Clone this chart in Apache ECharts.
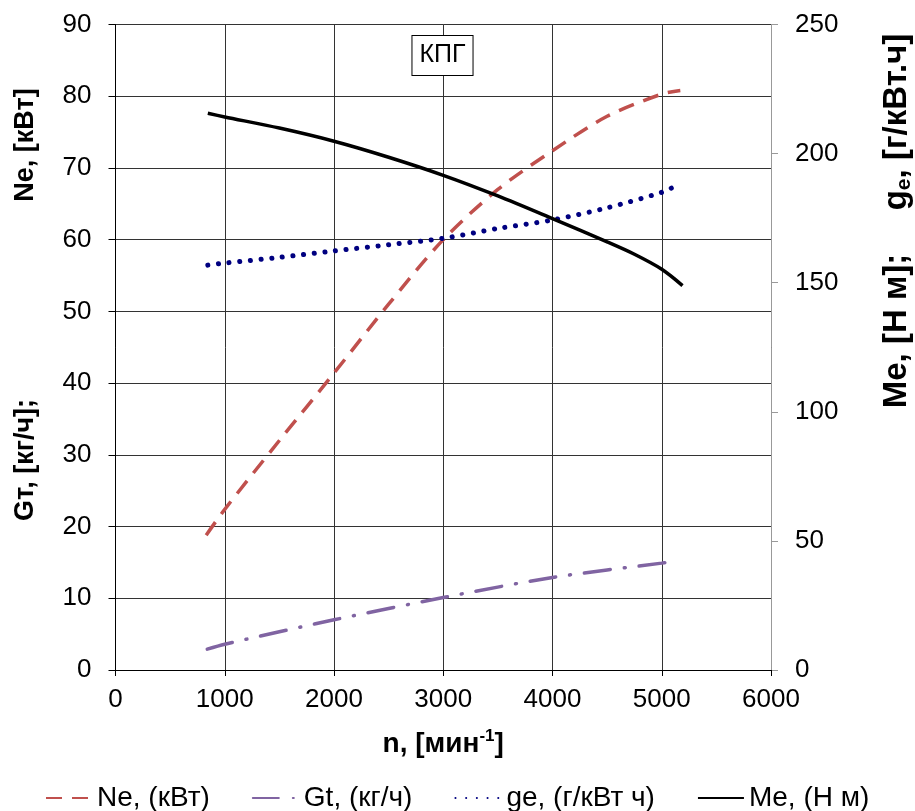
<!DOCTYPE html>
<html>
<head>
<meta charset="utf-8">
<script src="https://cdn.jsdelivr.net/npm/echarts@6/dist/echarts.min.js"></script>
<style>html,body{margin:0;padding:0;background:#fff}#c{width:915px;height:811px}</style>
</head>
<body>
<div id="c"></div>
<script>
// n, [мин-1] axis
const xTicks = [0, 1000, 2000, 3000, 4000, 5000, 6000];
const leftTicks = [0, 10, 20, 30, 40, 50, 60, 70, 80, 90];
const rightTicks = [0, 50, 100, 150, 200, 250];

// Ne, (кВт)
const neN   = [830, 1000, 1500, 2000, 2500, 3000, 3500, 4000, 4500, 5000, 5170];
const neVal = [18.8, 22.4, 32.0, 41.4, 51.0, 60.0, 67.0, 72.4, 77.2, 80.3, 80.8];
// Gt, (кг/ч)
const gtN   = [840, 1000, 2000, 3000, 4000, 5000, 5050];
const gtVal = [2.9, 3.6, 7.0, 10.1, 12.9, 14.9, 15.0];
// ge, (г/кВт ч)
const geN   = [845, 1000, 1500, 2000, 2500, 3000, 3500, 4000, 4500, 5000, 5100];
const geVal = [156.8, 157.6, 159.8, 162.3, 164.7, 167.2, 171.0, 174.3, 179.0, 185.0, 186.9];
// Me, (Н м)
const meN   = [845, 1000, 1500, 2000, 2500, 3000, 3500, 4000, 4500, 4750, 5000, 5190];
const meVal = [215.6, 214.2, 209.9, 204.8, 198.6, 191.6, 183.6, 174.8, 165.8, 161.0, 155.2, 148.9];

const pairs = (xs, ys) => xs.map((x, i) => [x, ys[i]]);
const FONT = 'Liberation Sans, Arial, sans-serif';

const chart = echarts.init(document.getElementById('c'), null, {renderer: 'canvas'});
chart.setOption({
  animation: false,
  backgroundColor: '#fff',
  grid: {left: 115.5, right: 144, top: 24.5, bottom: 141, containLabel: false, outerBoundsMode: 'none'},
  legend: {
    left: 40, top: 779,
    itemWidth: 46, itemHeight: 14, itemGap: 42,
    itemStyle: {opacity: 0},
    textStyle: {fontFamily: FONT, fontSize: 28, color: '#000'},
    data: ['Ne, (кВт)', 'Gt, (кг/ч)', 'ge, (г/кВт ч)', 'Me, (Н м)']
  },
  xAxis: {
    type: 'value', min: xTicks[0], max: xTicks[xTicks.length - 1], interval: 1000,
    axisLine: {show: true, lineStyle: {color: '#000', width: 1}},
    axisTick: {show: true, inside: false, length: 6, lineStyle: {color: '#000'}},
    axisLabel: {fontFamily: FONT, fontSize: 26, color: '#000', margin: 17, formatter: v => String(v)},
    splitLine: {show: true, lineStyle: {color: '#333', width: 1}},
    name: '{a|n, [мин}{s|-1}{a|]}',
    nameLocation: 'middle', nameGap: 58,
    nameTextStyle: {
      rich: {
        a: {fontFamily: FONT, fontSize: 28, fontWeight: 'bold', color: '#000', lineHeight: 32},
        s: {fontFamily: FONT, fontSize: 17, fontWeight: 'bold', color: '#000', verticalAlign: 'top', lineHeight: 32}
      }
    }
  },
  yAxis: [
    {
      type: 'value', min: leftTicks[0], max: leftTicks[leftTicks.length - 1], interval: 10,
      position: 'left',
      axisLine: {show: true, lineStyle: {color: '#000', width: 1}},
      axisTick: {show: true, inside: false, length: 7, lineStyle: {color: '#000'}},
      axisLabel: {fontFamily: FONT, fontSize: 26, color: '#000', margin: 24, formatter: v => String(v)},
      splitLine: {show: true, lineStyle: {color: '#333', width: 1}}
    },
    {
      type: 'value', min: rightTicks[0], max: rightTicks[rightTicks.length - 1], interval: 50,
      position: 'right',
      axisLine: {show: true, lineStyle: {color: '#999', width: 1}},
      axisTick: {show: true, inside: false, length: 7, lineStyle: {color: '#999'}},
      axisLabel: {fontFamily: FONT, fontSize: 26, color: '#000', margin: 24, formatter: v => String(v)},
      splitLine: {show: false}
    }
  ],
  graphic: [
    {type: 'text', x: 26, y: 145, rotation: Math.PI / 2,
     style: {text: 'Ne, [кВт]', font: 'bold 27px ' + FONT, fill: '#000', align: 'center', verticalAlign: 'middle'}},
    {type: 'text', x: 26, y: 460, rotation: Math.PI / 2,
     style: {text: 'Gт, [кг/ч];', font: 'bold 27px ' + FONT, fill: '#000', align: 'center', verticalAlign: 'middle'}},
    {type: 'text', x: 897, y: 331, rotation: Math.PI / 2,
     style: {text: 'Me, [Н м];', font: 'bold 33px ' + FONT, fill: '#000', align: 'center', verticalAlign: 'middle'}},
    {type: 'text', x: 897, y: 122, rotation: Math.PI / 2,
     style: {
       text: '{a|g}{s|e}{a|, [г/кВт.ч]}', align: 'center', verticalAlign: 'middle',
       rich: {
         a: {fontFamily: FONT, fontSize: 33, fontWeight: 'bold', fill: '#000', lineHeight: 36},
         s: {fontFamily: FONT, fontSize: 21, fontWeight: 'bold', fill: '#000', verticalAlign: 'bottom', lineHeight: 36}
       }
     }},
    {type: 'text', x: 442.5, y: 55.5, z: 100,
     style: {text: 'КПГ', font: '25px ' + FONT, fill: '#000', align: 'center', verticalAlign: 'middle',
             backgroundColor: '#fff', borderColor: '#000', borderWidth: 1, padding: [8, 7, 6, 7]}}
  ],
  series: [
    {name: 'Ne, (кВт)', type: 'line', yAxisIndex: 0, data: pairs(neN, neVal), symbol: 'none', smooth: 0.3,
     lineStyle: {color: '#c0504d', width: 3.5, type: [16, 10], cap: 'butt'}, itemStyle: {color: '#c0504d'}},
    {name: 'Gt, (кг/ч)', type: 'line', yAxisIndex: 0, data: pairs(gtN, gtVal), symbol: 'none', smooth: 0.3,
     lineStyle: {color: '#8064a2', width: 3.5, type: [26, 14, 1, 14], cap: 'round'}, itemStyle: {color: '#8064a2'}},
    {name: 'ge, (г/кВт ч)', type: 'line', yAxisIndex: 1, data: pairs(geN, geVal), symbol: 'none', smooth: 0.3,
     lineStyle: {color: '#000080', width: 5, type: [0.1, 10.6], cap: 'round'}, itemStyle: {color: '#000080'}},
    {name: 'Me, (Н м)', type: 'line', yAxisIndex: 1, data: pairs(meN, meVal), symbol: 'none', smooth: 0.3,
     lineStyle: {color: '#000', width: 3.5, type: 'solid'}, itemStyle: {color: '#000'}}
  ]
});
</script>
</body>
</html>
